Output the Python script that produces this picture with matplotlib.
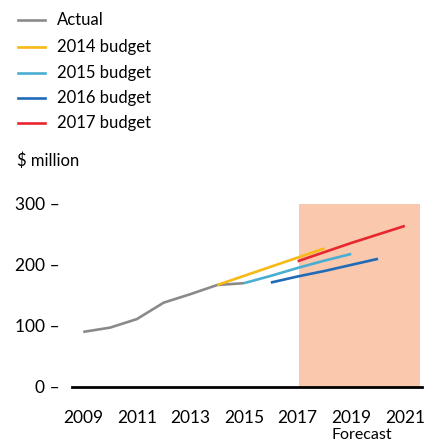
import matplotlib
matplotlib.use("Agg")
import matplotlib.pyplot as plt
from matplotlib.lines import Line2D

plt.rcParams['font.family'] = ['Lato', 'DejaVu Sans']

# Data
actual_years = [2009, 2010, 2011, 2012, 2013, 2014, 2015]
actual_vals = [90, 97, 111, 138, 152, 167, 170]

b2014_years = [2014, 2015, 2016, 2017, 2018]
b2014_vals = [167, 182, 197, 212, 227]
b2015_years = [2015, 2016, 2017, 2018, 2019]
b2015_vals = [170, 182, 195, 207, 218]
b2016_years = [2016, 2017, 2018, 2019, 2020]
b2016_vals = [171, 181, 190, 200, 210]
b2017_years = [2017, 2018, 2019, 2020, 2021]
b2017_vals = [206, 221, 236, 250, 264]

series_names = ["Actual", "2014 budget", "2015 budget", "2016 budget", "2017 budget"]
series_colors = ["#8a8a8a", "#f7b913", "#4aaed3", "#1f6bb8", "#e8262d"]

xticks = [2009, 2011, 2013, 2015, 2017, 2019, 2021]
yticks = [0, 100, 200, 300]
forecast_start, forecast_end = 2017.05, 2021.55

W = 442
fig = plt.figure(figsize=(4.42, 4.42), dpi=100)
ax = fig.add_axes([72 / W, 55.3 / W, 350 / W, 182.7 / W])

ax.axvspan(forecast_start, forecast_end, color="#f9c8ad", lw=0, zorder=0)

data = [(actual_years, actual_vals), (b2014_years, b2014_vals), (b2015_years, b2015_vals),
        (b2016_years, b2016_vals), (b2017_years, b2017_vals)]
for (xs, ys), c in zip(data, series_colors):
    ax.plot(xs, ys, color=c, lw=1.9, solid_capstyle='butt', zorder=3)

ax.set_xlim(2008.58, 2021.64)
ax.set_ylim(0, 300)
for s in ['top', 'right', 'left']:
    ax.spines[s].set_visible(False)
ax.spines['bottom'].set_linewidth(2)
ax.spines['bottom'].set_color('black')
ax.spines['bottom'].set_zorder(4)

ax.set_xticks(xticks)
ax.set_xticklabels([str(x) for x in xticks], fontsize=12.5)
ax.set_yticks(yticks)
ax.set_yticklabels([f"{y} \u2013" for y in yticks], fontsize=12.5)
ax.tick_params(axis='x', length=0, pad=17)
ax.tick_params(axis='y', length=0, pad=9)

fig.text(362 / W, 1 - 439 / W, "Forecast", fontsize=11.5, ha='center', va='baseline')

# Legend
rows_y = [20, 47, 73, 98, 123]
for name, c, yy in zip(series_names, series_colors, rows_y):
    fy = 1 - yy / W
    fig.add_artist(Line2D([18 / W, 45 / W], [fy, fy], color=c, lw=1.9))
    fig.text(57 / W, fy, name, fontsize=12, va='center', ha='left')

fig.text(17 / W, 1 - 161 / W, "$ million", fontsize=12, va='center', ha='left')

fig.savefig("out.png", dpi=100)
